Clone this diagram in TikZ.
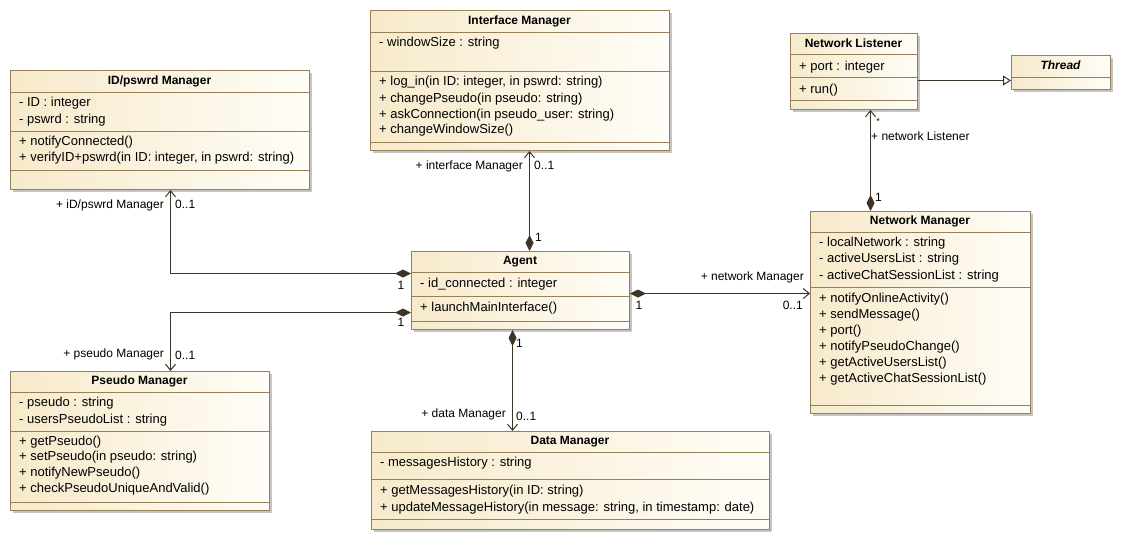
\documentclass[tikz,border=0pt]{standalone}
\usepackage{fontspec}
\setmainfont{Liberation Sans}
\usetikzlibrary{arrows.meta,shadows}

\definecolor{umlfillA}{RGB}{247,234,203}
\definecolor{umlfillB}{RGB}{255,253,247}
\definecolor{umlborder}{RGB}{150,128,88}
\definecolor{umlline}{RGB}{62,52,38}

\tikzset{
  classbox/.style={draw=umlborder,line width=1pt,anchor=north west,inner sep=0pt,
    left color=umlfillA,right color=umlfillB,
    drop shadow={shadow xshift=2pt,shadow yshift=-2pt,fill=black!45,opacity=.5}},
  sepline/.style={draw=umlborder,line width=1pt},
  member/.style={anchor=west,inner sep=0pt,text height=9pt,text depth=3pt,
    font=\fontsize{13}{15}\selectfont},
  classname/.style={member,anchor=center,font=\fontsize{12}{14}\selectfont\bfseries},
  rolelabel/.style={member,anchor=center,font=\fontsize{12}{14}\selectfont},
  compo/.style={draw=umlline,line width=1pt,
    arrows={Diamond[length=16pt,width=8pt]-Straight Barb[length=6pt,width=10pt]}},
  inherit/.style={draw=umlline,line width=1pt,
    arrows={-Triangle[open,length=8pt,width=10pt,fill=white]}},
}

\begin{document}
\begin{tikzpicture}[x=1pt,y=-1pt]
\useasboundingbox (0,0) rectangle (1121,541);

% class boxes
\node[classbox,minimum width=299pt,minimum height=119pt] (idm) at (10,70) {};
\node[classbox,minimum width=299pt,minimum height=140pt] (ifm) at (370,10) {};
\node[classbox,minimum width=127pt,minimum height=76pt] (nlis) at (790,33) {};
\node[classbox,minimum width=99pt,minimum height=34pt] (thr) at (1011,55) {};
\node[classbox,minimum width=218pt,minimum height=78pt] (agent) at (411,251) {};
\node[classbox,minimum width=220pt,minimum height=202pt] (nwm) at (810,211) {};
\node[classbox,minimum width=259pt,minimum height=139pt] (psm) at (10,371) {};
\node[classbox,minimum width=398pt,minimum height=98pt] (dtm) at (371,431) {};

% compartments
\draw[sepline] (10,92) -- (309,92);
\draw[sepline] (10,131) -- (309,131);
\draw[sepline] (10,170) -- (309,170);
\draw[sepline] (370,32) -- (669,32);
\draw[sepline] (370,71) -- (669,71);
\draw[sepline] (370,142) -- (669,142);
\draw[sepline] (790,54) -- (917,54);
\draw[sepline] (790,77) -- (917,77);
\draw[sepline] (790,100) -- (917,100);
\draw[sepline] (1011,77) -- (1110,77);
\draw[sepline] (411,272) -- (629,272);
\draw[sepline] (411,296) -- (629,296);
\draw[sepline] (411,321) -- (629,321);
\draw[sepline] (810,232) -- (1030,232);
\draw[sepline] (810,287) -- (1030,287);
\draw[sepline] (810,405) -- (1030,405);
\draw[sepline] (10,392) -- (269,392);
\draw[sepline] (10,431) -- (269,431);
\draw[sepline] (10,502) -- (269,502);
\draw[sepline] (371,452) -- (769,452);
\draw[sepline] (371,479) -- (769,479);
\draw[sepline] (371,519) -- (769,519);

% ID/pswrd Manager
\node[classname] (idm-t) at (159.5,81) {ID/pswrd Manager};
\node[member] (idm-a1) at (19,103) {- ID : integer};
\node[member] (idm-a2) at (19,120) {- pswrd : string};
\node[member] (idm-o1) at (19,142) {+ notifyConnected()};
\node[member] (idm-o2) at (19,158) {+ verifyID+pswrd(in ID: integer, in pswrd: string)};

% Interface Manager
\node[classname] (ifm-t) at (519.5,21) {Interface Manager};
\node[member] (ifm-a1) at (379,43) {- windowSize : string};
\node[member] (ifm-o1) at (379,82) {+ log\_in(in ID: integer, in pswrd: string)};
\node[member] (ifm-o2) at (379,99) {+ changePseudo(in pseudo: string)};
\node[member] (ifm-o3) at (379,115) {+ askConnection(in pseudo\_user: string)};
\node[member] (ifm-o4) at (379,130) {+ changeWindowSize()};

% Network Listener
\node[classname] (nlis-t) at (853.5,44) {Network Listener};
\node[member] (nlis-a1) at (799,67) {+ port : integer};
\node[member] (nlis-o1) at (799,90) {+ run()};

% Thread
\node[classname,font=\fontsize{12}{14}\selectfont\bfseries\itshape] (thr-t) at (1060.5,66) {Thread};

% Agent
\node[classname] (agent-t) at (520,261) {Agent};
\node[member] (agent-a1) at (420,284) {- id\_connected : integer};
\node[member] (agent-o1) at (420,308) {+ launchMainInterface()};

% Network Manager
\node[classname] (nwm-t) at (920,221) {Network Manager};
\node[member] (nwm-a1) at (819,243) {- localNetwork : string};
\node[member] (nwm-a2) at (819,259) {- activeUsersList : string};
\node[member] (nwm-a3) at (819,276) {- activeChatSessionList : string};
\node[member] (nwm-o1) at (819,299) {+ notifyOnlineActivity()};
\node[member] (nwm-o2) at (819,315) {+ sendMessage()};
\node[member] (nwm-o3) at (819,331) {+ port()};
\node[member] (nwm-o4) at (819,347) {+ notifyPseudoChange()};
\node[member] (nwm-o5) at (819,363) {+ getActiveUsersList()};
\node[member] (nwm-o6) at (819,379) {+ getActiveChatSessionList()};

% Pseudo Manager
\node[classname] (psm-t) at (139.5,381) {Pseudo Manager};
\node[member] (psm-a1) at (19,403) {- pseudo : string};
\node[member] (psm-a2) at (19,420) {- usersPseudoList : string};
\node[member] (psm-o1) at (19,442) {+ getPseudo()};
\node[member] (psm-o2) at (19,457) {+ setPseudo(in pseudo: string)};
\node[member] (psm-o3) at (19,473) {+ notifyNewPseudo()};
\node[member] (psm-o4) at (19,489) {+ checkPseudoUniqueAndValid()};

% Data Manager
\node[classname] (dtm-t) at (570,441) {Data Manager};
\node[member] (dtm-a1) at (380,463) {- messagesHistory : string};
\node[member] (dtm-o1) at (380,491) {+ getMessagesHistory(in ID: string)};
\node[member] (dtm-o2) at (380,508) {+ updateMessageHistory(in message: string, in timestamp: date)};

% associations
\draw[compo] ([xshift=9pt]agent.north) -- ([xshift=9pt]agent.north |- ifm.south);
\draw[compo] ([yshift=17pt]agent.west) -| ([xshift=10.5pt]idm.south);
\draw[compo] ([yshift=-22pt]agent.west) -| ([xshift=30.5pt]psm.north);
\draw[compo] ([yshift=-3pt]agent.east) -- ([yshift=-3pt]agent.east -| nwm.west);
\draw[compo] ([xshift=-8pt]agent.south) -- ([xshift=-8pt]agent.south |- dtm.north);
\draw[compo] ([xshift=-50pt]nwm.north) -- ([xshift=-50pt]nwm.north |- nlis.south);
\draw[inherit] ([yshift=-9pt]nlis.east) -- ([yshift=-9pt]nlis.east -| thr.west);

% role names and multiplicities
\node[rolelabel,anchor=east] (r-ifm) at (523,166) {+ interface Manager};
\node[rolelabel,anchor=west] (m-ifm) at (534,166) {0..1};
\node[rolelabel,anchor=west] (m-ag1) at (535,238) {1};
\node[rolelabel,anchor=east] (r-idm) at (164,205) {+ iD/pswrd Manager};
\node[rolelabel,anchor=west] (m-idm) at (175,205) {0..1};
\node[rolelabel] (m-ag2) at (401,286) {1};
\node[rolelabel,anchor=east] (r-psm) at (164,354) {+ pseudo Manager};
\node[rolelabel,anchor=west] (m-psm) at (175,356) {0..1};
\node[rolelabel] (m-ag3) at (401,323) {1};
\node[rolelabel,anchor=east] (r-nwm) at (804,277) {+ network Manager};
\node[rolelabel,anchor=east] (m-nwm) at (803,306) {0..1};
\node[rolelabel] (m-ag4) at (639,306) {1};
\node[rolelabel,anchor=east] (r-dtm) at (506,414) {+ data Manager};
\node[rolelabel,anchor=west] (m-dtm) at (516,417) {0..1};
\node[rolelabel,anchor=west] (m-ag5) at (516,344) {1};
\node[rolelabel,font=\fontsize{9}{10}\selectfont] (m-nlis) at (878,121) {*};
\node[rolelabel,anchor=west] (r-nlis) at (871,137) {+ network Listener};
\node[rolelabel,anchor=west] (m-nwm2) at (875,198) {1};
\end{tikzpicture}
\end{document}
